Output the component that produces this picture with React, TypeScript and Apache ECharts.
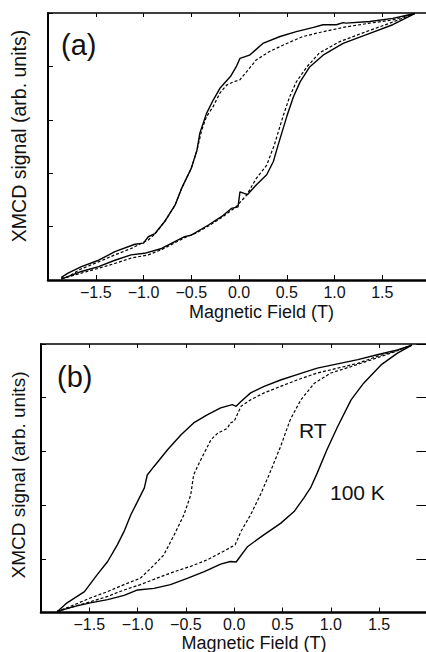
import React, { useEffect, useRef } from "react";
import * as echarts from "echarts";

// Panel (a): [field (T), XMCD signal (arb.)]
const aSolidDown: number[][] = [
  [1.84, 4.99], [1.61, 4.9], [1.37, 4.84], [1.12, 4.81], [1.09, 4.82], [1.02, 4.78], [0.88, 4.78],
  [0.78, 4.73], [0.6, 4.65], [0.43, 4.56], [0.25, 4.43], [0.11, 4.21], [0.01, 4.15], [-0.03, 3.99],
  [-0.09, 3.81], [-0.2, 3.59], [-0.27, 3.37], [-0.34, 3.12], [-0.41, 2.75], [-0.44, 2.43], [-0.5, 2.09],
  [-0.6, 1.72], [-0.67, 1.4], [-0.78, 1.09], [-0.88, 0.87], [-0.95, 0.81], [-1.0, 0.69], [-1.09, 0.67],
  [-1.3, 0.53], [-1.47, 0.37], [-1.65, 0.25], [-1.79, 0.13], [-1.86, 0.05],
];
const aSolidUp: number[][] = [
  [-1.86, 0.05], [-1.84, 0.03], [-1.65, 0.16], [-1.47, 0.25], [-1.3, 0.37], [-1.13, 0.47], [-0.99, 0.5],
  [-0.81, 0.59], [-0.57, 0.81], [-0.5, 0.84], [-0.32, 1.03], [-0.18, 1.19], [-0.08, 1.34], [-0.01, 1.37],
  [0.01, 1.65], [0.09, 1.6], [0.18, 1.78], [0.29, 1.97], [0.36, 2.22], [0.41, 2.53], [0.5, 3.06],
  [0.57, 3.43], [0.64, 3.71], [0.74, 3.99], [0.88, 4.21], [1.09, 4.43], [1.37, 4.62], [1.61, 4.78],
  [1.84, 4.99],
];
const aDashedDown: number[][] = [
  [1.84, 4.99], [1.61, 4.87], [1.37, 4.81], [1.12, 4.74], [0.88, 4.65], [0.67, 4.56], [0.5, 4.43],
  [0.32, 4.28], [0.18, 4.12], [0.08, 3.9], [0.01, 3.75], [-0.06, 3.71], [-0.13, 3.65], [-0.2, 3.5],
  [-0.27, 3.25], [-0.34, 3.06], [-0.39, 2.81], [-0.44, 2.43], [-0.5, 2.09], [-0.6, 1.72], [-0.67, 1.4],
  [-0.78, 1.09], [-0.88, 0.86], [-0.95, 0.75], [-1.13, 0.59], [-1.3, 0.47], [-1.47, 0.34], [-1.65, 0.21],
  [-1.79, 0.06], [-1.86, 0.02],
];
const aDashedUp: number[][] = [
  [-1.86, 0.02], [-1.65, 0.13], [-1.47, 0.22], [-1.3, 0.31], [-1.13, 0.41], [-0.95, 0.47], [-0.81, 0.57],
  [-0.57, 0.79], [-0.45, 0.88], [-0.32, 1.01], [-0.18, 1.17], [-0.03, 1.37], [0.08, 1.59], [0.18, 1.9],
  [0.29, 2.15], [0.37, 2.53], [0.46, 3.06], [0.53, 3.43], [0.6, 3.71], [0.71, 3.99], [0.84, 4.25],
  [1.05, 4.46], [1.33, 4.65], [1.58, 4.81], [1.84, 4.99],
];

// Panel (b): 100 K (solid) and RT (dashed)
const b100KDown: number[][] = [
  [1.84, 4.98], [1.69, 4.89], [1.48, 4.8], [1.28, 4.71], [1.07, 4.63], [0.86, 4.55], [0.65, 4.43],
  [0.48, 4.33], [0.31, 4.21], [0.17, 4.09], [0.07, 3.93], [0.02, 3.84], [-0.02, 3.87], [-0.14, 3.81],
  [-0.28, 3.68], [-0.42, 3.53], [-0.55, 3.31], [-0.69, 3.03], [-0.83, 2.72], [-0.9, 2.56], [-0.93, 2.32],
  [-1.0, 2.07], [-1.07, 1.82], [-1.14, 1.51], [-1.21, 1.26], [-1.31, 0.95], [-1.42, 0.7], [-1.55, 0.39],
  [-1.73, 0.18], [-1.83, 0.02],
];
const b100KUp: number[][] = [
  [-1.83, 0.02], [-1.66, 0.11], [-1.49, 0.18], [-1.31, 0.24], [-1.14, 0.32], [-1.0, 0.42], [-0.83, 0.45],
  [-0.66, 0.52], [-0.48, 0.64], [-0.31, 0.76], [-0.14, 0.9], [-0.04, 0.95], [0.02, 0.94], [0.14, 1.23],
  [0.31, 1.45], [0.48, 1.66], [0.62, 1.88], [0.72, 2.13], [0.79, 2.32], [0.86, 2.6], [0.96, 3.03],
  [1.07, 3.46], [1.21, 3.96], [1.34, 4.27], [1.52, 4.61], [1.69, 4.83], [1.84, 4.98],
];
const bRTDown: number[][] = [
  [1.84, 4.98], [1.69, 4.88], [1.48, 4.77], [1.28, 4.64], [1.07, 4.55], [0.86, 4.46], [0.65, 4.33],
  [0.48, 4.21], [0.31, 4.09], [0.17, 3.96], [0.07, 3.84], [0.0, 3.56], [-0.04, 3.53], [-0.07, 3.43],
  [-0.17, 3.34], [-0.24, 3.22], [-0.31, 2.97], [-0.38, 2.72], [-0.42, 2.56], [-0.45, 2.19], [-0.52, 1.82],
  [-0.62, 1.45], [-0.73, 1.07], [-0.86, 0.83], [-0.97, 0.64], [-1.14, 0.52], [-1.31, 0.39], [-1.49, 0.27],
  [-1.66, 0.14], [-1.83, 0.02],
];
const bRTUp: number[][] = [
  [-1.83, 0.02], [-1.66, 0.11], [-1.49, 0.2], [-1.31, 0.3], [-1.14, 0.42], [-0.97, 0.52], [-0.8, 0.64],
  [-0.62, 0.76], [-0.45, 0.86], [-0.28, 0.98], [-0.11, 1.14], [0.01, 1.26], [0.07, 1.51], [0.17, 1.82],
  [0.27, 2.19], [0.36, 2.56], [0.48, 3.09], [0.58, 3.59], [0.69, 3.96], [0.83, 4.27], [1.0, 4.46],
  [1.21, 4.58], [1.41, 4.7], [1.62, 4.83], [1.84, 4.98],
];

const X_MIN = -2;
const X_MAX = 2;
const X_STEP = 0.5;
const Y_MIN = 0;
const Y_MAX = 5;
const Y_STEP = 1;

const X_TITLE = "Magnetic Field (T)";
const Y_TITLE = "XMCD signal (arb. units)";
const PANEL_LABELS = ["(a)", "(b)"];
const CURVE_LABELS = ["RT", "100 K"];

const FONT = "'Liberation Sans', Arial, Helvetica, sans-serif";
const INK = "#111";

function fmt(v: number): string {
  if (Math.abs(v) < 1e-9) return "0.0";
  return (v < 0 ? "\u2212" : "") + Math.abs(v).toFixed(1);
}

function axesFor(gridIndex: number, rightTick: number) {
  const xBottom = {
    type: "value", gridIndex, position: "bottom", min: X_MIN, max: X_MAX, interval: X_STEP,
    axisLine: { show: true, onZero: false, lineStyle: { color: "#000", width: 2.5 } },
    axisTick: { show: true, inside: true, length: 5, lineStyle: { color: "#000", width: 1 } },
    axisLabel: {
      show: true, showMinLabel: false, showMaxLabel: false, formatter: fmt,
      fontSize: 16, fontFamily: FONT, color: INK, margin: 4,
    },
    splitLine: { show: false },
  };
  const xTop = {
    type: "value", gridIndex, position: "top", min: X_MIN, max: X_MAX, interval: X_STEP,
    axisLine: { show: true, onZero: false, lineStyle: { color: "#000", width: 1.5 } },
    axisTick: { show: true, inside: true, length: 4, lineStyle: { color: "#000", width: 1 } },
    axisLabel: { show: false },
    splitLine: { show: false },
  };
  const yLeft = {
    type: "value", gridIndex, position: "left", min: Y_MIN, max: Y_MAX, interval: Y_STEP,
    axisLine: { show: true, onZero: false, lineStyle: { color: "#000", width: 2 } },
    axisTick: { show: true, inside: true, length: 5, lineStyle: { color: "#000", width: 1 } },
    axisLabel: { show: false },
    splitLine: { show: false },
  };
  const yRight = {
    type: "value", gridIndex, position: "right", min: Y_MIN, max: Y_MAX, interval: Y_STEP,
    axisLine: { show: true, onZero: false, lineStyle: { color: "#000", width: 1.5 } },
    axisTick: {
      show: rightTick > 0, inside: true, length: rightTick,
      lineStyle: { color: "#000", width: 1 },
    },
    axisLabel: { show: false },
    splitLine: { show: false },
  };
  return { x: [xBottom, xTop], y: [yLeft, yRight] };
}

function line(data: number[][], axis: number, dashed: boolean) {
  return {
    type: "line",
    xAxisIndex: axis,
    yAxisIndex: axis,
    data,
    showSymbol: false,
    symbol: "none",
    smooth: false,
    silent: true,
    lineStyle: {
      color: "#000",
      width: dashed ? 1.2 : 1.4,
      type: dashed ? [3, 2] : "solid",
    },
  };
}

export default function App() {
  const ref = useRef<HTMLDivElement>(null);

  useEffect(() => {
    if (!ref.current) return;
    const chart = echarts.init(ref.current, undefined, { renderer: "svg" });
    const A = axesFor(0, 0);
    const B = axesFor(1, 11);
    const text = (t: string, x: number, y: number, size: number, extra: any = {}) => ({
      type: "text",
      x,
      y,
      ...extra,
      style: {
        text: t,
        fontSize: size,
        fontFamily: FONT,
        fill: INK,
        textAlign: extra.align || "left",
        textVerticalAlign: "middle",
      },
    });
    chart.setOption({
      animation: false,
      backgroundColor: "#fff",
      grid: [
        { left: 48, top: 13, width: 382, height: 267 },
        { left: 41, top: 344, width: 386.4, height: 268.5 },
      ],
      xAxis: [...A.x, ...B.x],
      // indices: 0 bottom(a), 1 top(a), 2 bottom(b), 3 top(b)
      yAxis: [...A.y, ...B.y],
      series: [
        line(aSolidDown, 0, false),
        line(aSolidUp, 0, false),
        line(aDashedDown, 0, true),
        line(aDashedUp, 0, true),
        line(b100KDown, 2, false),
        line(b100KUp, 2, false),
        line(bRTDown, 2, true),
        line(bRTUp, 2, true),
      ],
      graphic: [
        text(PANEL_LABELS[0], 61, 45, 29),
        text(PANEL_LABELS[1], 57, 377, 29),
        text(CURVE_LABELS[0], 299, 430, 21),
        text(CURVE_LABELS[1], 330, 492, 21),
        text(X_TITLE, 261.5, 312, 18, { align: "center" }),
        text(X_TITLE, 254, 643, 18, { align: "center" }),
        text(Y_TITLE, 19, 136, 19.5, { align: "center", rotation: Math.PI / 2 }),
        text(Y_TITLE, 18, 475, 19, { align: "center", rotation: Math.PI / 2 }),
      ],
    });
    return () => chart.dispose();
  }, []);

  return (
    <div style={{ position: "fixed", left: 0, top: 0, width: 426, height: 652, overflow: "hidden", background: "#fff" }}>
      <div ref={ref} style={{ width: 434, height: 652 }} />
    </div>
  );
}
